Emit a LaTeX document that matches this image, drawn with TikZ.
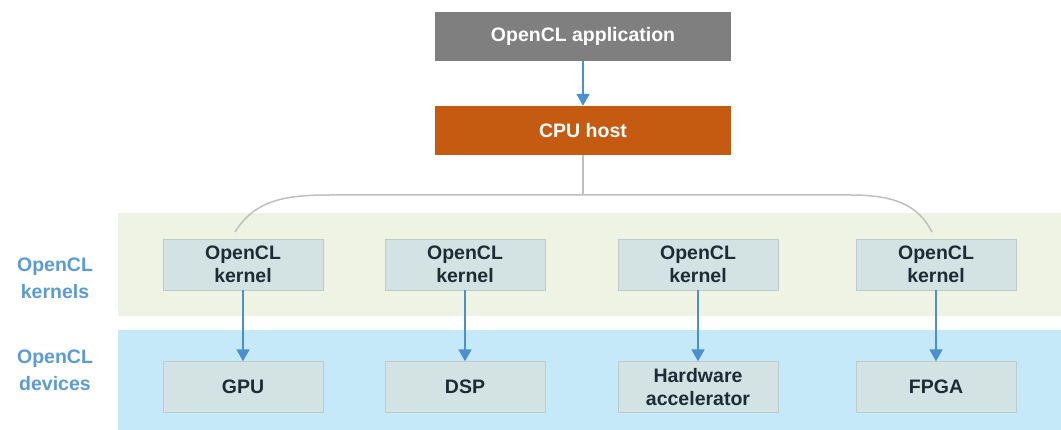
\documentclass[tikz,border=0pt]{standalone}
\usepackage{fontspec}
\setmainfont{Liberation Sans}
\usetikzlibrary{arrows.meta}

\definecolor{appgray}{HTML}{7F7F7F}
\definecolor{hostorange}{HTML}{C55A11}
\definecolor{kernelband}{HTML}{EEF3E4}
\definecolor{deviceband}{HTML}{C6E9F9}
\definecolor{boxfill}{HTML}{D3E3E3}
\definecolor{boxline}{HTML}{BACCCC}
\definecolor{arrowblue}{HTML}{4A90D0}
\definecolor{labelblue}{HTML}{5B9BD5}
\definecolor{boxtext}{HTML}{1E2B35}
\definecolor{bracegray}{HTML}{BFBFBF}

\tikzset{
  topbox/.style={minimum width=296pt,minimum height=49pt,inner sep=0pt,text=white,font=\bfseries\fontsize{19.5}{22}\selectfont},
  unitbox/.style={draw=boxline,fill=boxfill,minimum width=160pt,minimum height=51pt,inner sep=0pt,align=center,text=boxtext,font=\bfseries\fontsize{19.5}{23}\selectfont},
  sidelabel/.style={align=center,text=labelblue,font=\bfseries\fontsize{19.5}{27}\selectfont},
  flow/.style={draw=arrowblue,line width=1.8pt,-{Triangle[length=12pt,width=13pt]}},
}

\begin{document}
\begin{tikzpicture}[x=1pt,y=-1pt]
\useasboundingbox (0,0) rectangle (1061,430);
% bands
\fill[kernelband] (118,213) rectangle (1061,316);
\fill[deviceband] (118,330) rectangle (1061,430);
\node[sidelabel] (kernels) at (55,278) {OpenCL\\kernels};
\node[sidelabel] (devices) at (55,370) {OpenCL\\devices};
% host side
\node[topbox,fill=appgray] (app) at (583,36.5) {OpenCL application};
\node[topbox,fill=hostorange] (host) at (583,130.5) {CPU host};
\draw[flow] (app) -- (host);
% kernels and devices
\node[unitbox] (K1) at (243,264.5) {OpenCL\\kernel};
\node[unitbox] (K2) at (465,264.5) {OpenCL\\kernel};
\node[unitbox] (K3) at (698,264.5) {OpenCL\\kernel};
\node[unitbox] (K4) at (936,264.5) {OpenCL\\kernel};
\node[unitbox] (D1) at (243,387) {GPU};
\node[unitbox] (D2) at (465,387) {DSP};
\node[unitbox] (D3) at (698,387) {Hardware\\accelerator};
\node[unitbox] (D4) at (936,387) {FPGA};
\draw[flow] (K1) -- (D1);
\draw[flow] (K2) -- (D2);
\draw[flow] (K3) -- (D3);
\draw[flow] (K4) -- (D4);
% bracket from host to kernels
\coordinate (split) at (583,195);
\coordinate (leftend) at (235,232);
\coordinate (rightend) at (932,232);
\draw[bracegray,line width=1.5pt] (host) -- (split);
\draw[bracegray,line width=1.5pt] (leftend) .. controls (255,200) and (285,195) .. (330,195)
  -- (850,195) .. controls (895,195) and (918,205) .. (rightend);
\end{tikzpicture}
\end{document}
